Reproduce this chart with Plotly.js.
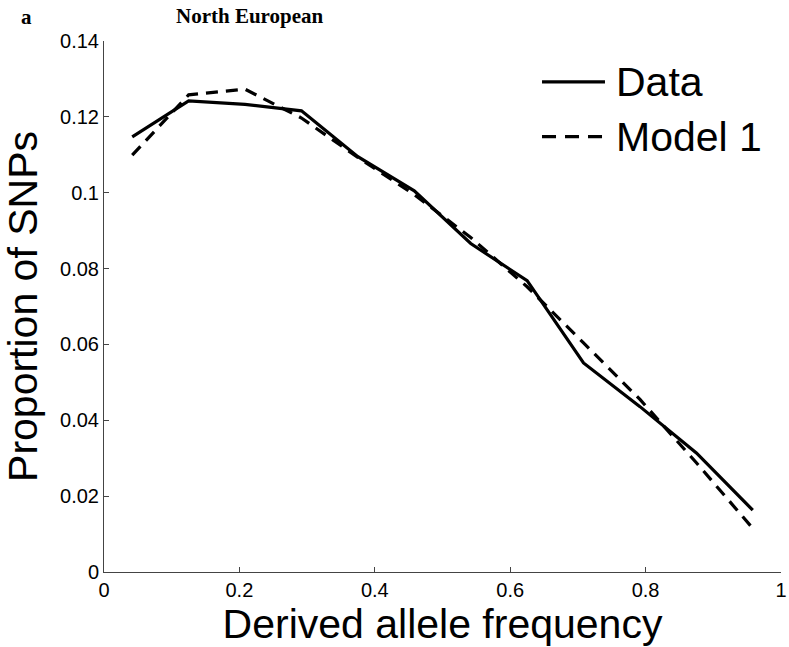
<!DOCTYPE html>
<html>
<head>
<meta charset="utf-8">
<script src="https://cdn.plot.ly/plotly-3.0.1.min.js"></script>
<style>
  html, body { margin: 0; padding: 0; background: #ffffff; }
  #chart { width: 789px; height: 647px; }
</style>
</head>
<body>
<div id="chart"></div>
<script>
// Derived allele frequency bins (bin centres)
var freq = [0.0417, 0.125, 0.2083, 0.2917, 0.375, 0.4583, 0.5417, 0.625, 0.7083, 0.7917, 0.875, 0.9583];
// Observed proportion of SNPs
var dataVals = [0.1147, 0.1242, 0.1233, 0.1216, 0.1095, 0.1005, 0.0866, 0.0768, 0.0551, 0.0436, 0.0314, 0.0163];
// Model 1 prediction
var model1Vals = [0.1099, 0.1258, 0.1273, 0.1197, 0.1093, 0.0995, 0.0882, 0.0752, 0.0604, 0.0455, 0.0288, 0.0115];

var xTicks = [0, 0.2, 0.4, 0.6, 0.8, 1];
var xTickText = ["0", "0.2", "0.4", "0.6", "0.8", "1"];
var yTicks = [0, 0.02, 0.04, 0.06, 0.08, 0.1, 0.12, 0.14];
var yTickText = ["0", "0.02", "0.04", "0.06", "0.08", "0.1", "0.12", "0.14"];

var seriesNames = ["Data", "Model 1"];

var sans = "Liberation Sans, Arial, Helvetica, sans-serif";
var serif = "Liberation Serif, Times New Roman, serif";

var traces = [
  {
    x: freq, y: dataVals, name: seriesNames[0], type: "scatter", mode: "lines",
    line: { color: "#000000", width: 3.2, dash: "solid" },
    showlegend: false, hoverinfo: "x+y"
  },
  {
    x: freq, y: model1Vals, name: seriesNames[1], type: "scatter", mode: "lines",
    line: { color: "#000000", width: 3.2, dash: "12px,8px" },
    showlegend: false, hoverinfo: "x+y"
  }
];

var layout = {
  width: 789, height: 647,
  paper_bgcolor: "#ffffff", plot_bgcolor: "#ffffff",
  margin: { l: 103.5, r: 8, t: 40.5, b: 74.5, pad: 0 },
  showlegend: false,
  xaxis: {
    range: [0, 1], tickvals: xTicks, ticktext: xTickText,
    ticks: "inside", ticklen: 5, tickwidth: 1, tickcolor: "#444444",
    showline: true, linecolor: "#444444", linewidth: 1, mirror: false,
    showgrid: false, zeroline: false,
    tickfont: { family: sans, size: 20, color: "#000000" },
    title: { text: "Derived allele frequency", font: { family: sans, size: 41, color: "#000000" }, standoff: 2 },
    automargin: false
  },
  yaxis: {
    range: [0, 0.14], tickvals: yTicks, ticktext: yTickText,
    ticks: "inside", ticklen: 5, tickwidth: 1, tickcolor: "#444444",
    showline: true, linecolor: "#444444", linewidth: 1, mirror: false,
    showgrid: false, zeroline: false,
    tickfont: { family: sans, size: 20, color: "#000000" },
    title: { text: "Proportion of SNPs", font: { family: sans, size: 41, color: "#000000" }, standoff: 10 },
    automargin: false
  },
  shapes: [
    { type: "line", xref: "paper", yref: "paper", x0: 0.647, x1: 0.740, y0: 0.923, y1: 0.923,
      line: { color: "#000000", width: 3.2, dash: "solid" } },
    { type: "line", xref: "paper", yref: "paper", x0: 0.647, x1: 0.740, y0: 0.820, y1: 0.820,
      line: { color: "#000000", width: 3.2, dash: "14px,9px" } }
  ],
  annotations: [
    { text: seriesNames[0], xref: "paper", yref: "paper", x: 0.753, y: 0.923, xanchor: "left", yanchor: "middle",
      showarrow: false, font: { family: sans, size: 41, color: "#000000" } },
    { text: seriesNames[1], xref: "paper", yref: "paper", x: 0.753, y: 0.820, xanchor: "left", yanchor: "middle",
      showarrow: false, font: { family: sans, size: 41, color: "#000000" } },
    { text: "<b>a</b>", xref: "paper", yref: "paper", x: -0.125, y: 1.045, xanchor: "left", yanchor: "middle",
      showarrow: false, font: { family: serif, size: 21, color: "#000000" } },
    { text: "<b>North European</b>", xref: "paper", yref: "paper", x: 0.215, y: 1.047, xanchor: "center", yanchor: "middle",
      showarrow: false, font: { family: serif, size: 21, color: "#000000" } }
  ]
};

Plotly.newPlot("chart", traces, layout, { displayModeBar: false, staticPlot: true });
</script>
</body>
</html>
